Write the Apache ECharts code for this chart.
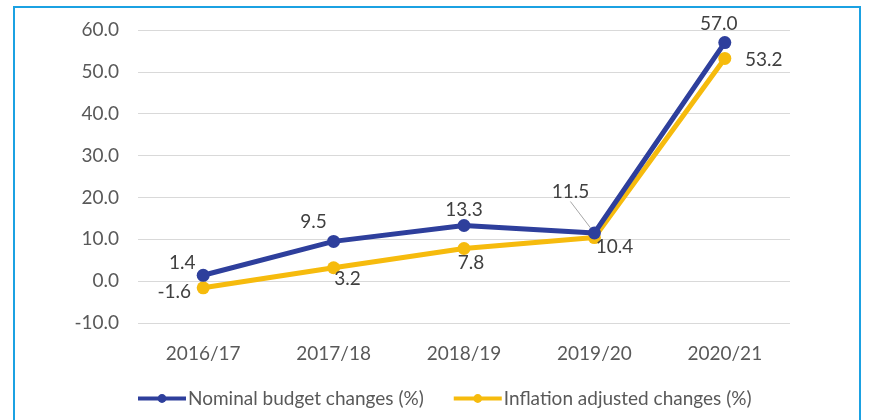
<!DOCTYPE html>
<html><head><meta charset="utf-8">
<script src="https://cdn.jsdelivr.net/npm/echarts@6/dist/echarts.min.js"></script>
<style>html,body{margin:0;padding:0;background:#fff}#c{width:869px;height:420px}</style>
</head><body><div id="c"></div>
<script>
var categories = ['2016/17','2017/18','2018/19','2019/20','2020/21'];
var nominal = [1.4, 9.5, 13.3, 11.5, 57.0];
var inflation = [-1.6, 3.2, 7.8, 10.4, 53.2];
var seriesNames = ['Nominal budget changes (%)', 'Inflation adjusted changes (%)'];

// label shifts (px) relative to default label placement
var nomShift = [[-21,9],[-20,1],[0,5],[-24,-20],[-6,2]];
var infShift = [[-29,-17],[14,-10],[7,-7],[20,-12],[39,-20]];
var leaderIndex = 3;

var chart = echarts.init(document.getElementById('c'));
var fontFam = 'Lato, "Noto Sans", sans-serif';
var txtColor = '#595959';

function mkData(vals, withLeader) {
  return vals.map(function(v, i){
    var d = {value: v};
    if (withLeader && i === leaderIndex) d.labelLine = {show: true};
    return d;
  });
}

chart.setOption({
  animation: false,
  graphic: [{
    type: 'rect', shape: {x: 14, y: 7, width: 846, height: 430},
    style: {fill: 'none', stroke: '#1ba1e2', lineWidth: 2}, z: 0
  }],
  grid: {left: 138, right: 79, top: 30, bottom: 97},
  legend: {
    left: 131, top: 384, itemWidth: 48, itemHeight: 11, itemGap: 28,
    lineStyle: {width: 4},
    textStyle: {fontFamily: fontFam, fontSize: 19, color: txtColor, padding: [0,0,0,-3]},
    data: seriesNames
  },
  xAxis: {
    type: 'category', data: categories, boundaryGap: true,
    axisLine: {show: false}, axisTick: {show: false},
    axisLabel: {fontFamily: fontFam, fontSize: 19, color: txtColor, margin: 21}
  },
  yAxis: {
    type: 'value', min: -10, max: 60, interval: 10,
    axisLine: {show: false}, axisTick: {show: false},
    axisLabel: {fontFamily: fontFam, fontSize: 19, color: txtColor, margin: 19,
      formatter: function(v){return v.toFixed(1);}},
    splitLine: {lineStyle: {color: '#d9d9d9', width: 1}}
  },
  series: [{
    name: seriesNames[0], type: 'line', data: mkData(nominal, true),
    symbol: 'circle', symbolSize: 13, z: 3,
    lineStyle: {color: '#2e3f9c', width: 5}, itemStyle: {color: '#2e3f9c'},
    label: {show: true, position: 'top', fontFamily: fontFam, fontSize: 19, color: '#404040',
      formatter: function(p){return p.value.toFixed(1);}},
    labelLine: {show: false, lineStyle: {color: '#a6a6a6', width: 1}},
    labelLayout: function(p){ var s = nomShift[p.dataIndex]; return {dx: s[0], dy: s[1]}; }
  },{
    name: seriesNames[1], type: 'line', data: mkData(inflation, false),
    symbol: 'circle', symbolSize: 13, z: 2,
    lineStyle: {color: '#f6bb0d', width: 5}, itemStyle: {color: '#f6bb0d'},
    label: {show: true, position: 'bottom', fontFamily: fontFam, fontSize: 19, color: '#404040',
      formatter: function(p){return p.value.toFixed(1);}},
    labelLine: {show: false},
    labelLayout: function(p){ var s = infShift[p.dataIndex]; return {dx: s[0], dy: s[1]}; }
  }]
});
</script></body></html>
